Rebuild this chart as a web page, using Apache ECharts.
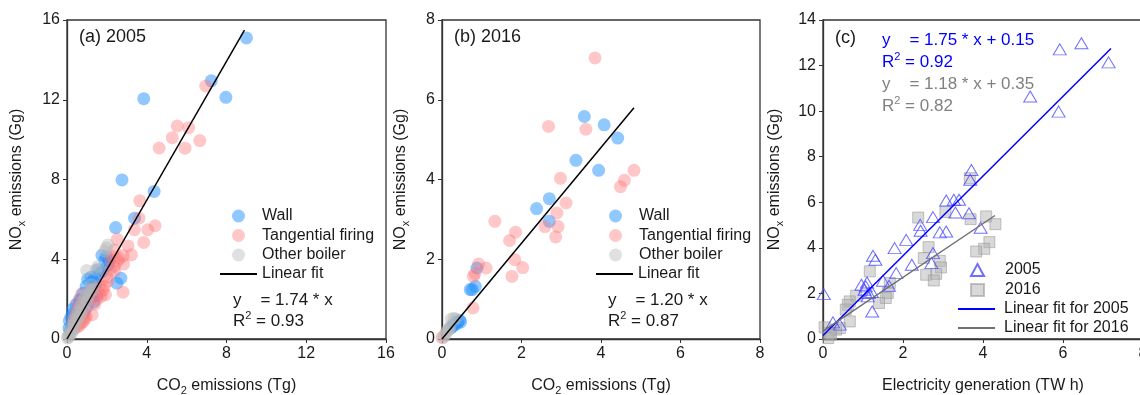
<!DOCTYPE html>
<html>
<head>
<meta charset="utf-8" />
<script src="https://cdn.jsdelivr.net/npm/echarts@6.0.0/dist/echarts.min.js"></script>
<style>
  html, body { margin: 0; padding: 0; background: #fff; }
</style>
</head>
<body>
<div id="main" style="width: 1140px; height: 395px"></div>
<script type="text/javascript">
// ---- data ----
// (a) 2005, x = CO2 (Tg), y = NOx (Gg)
const wallA = [[9.0,15.1],[7.24,12.95],[7.97,12.12],[3.85,12.05],[2.76,7.98],[4.37,7.4],[2.44,5.59],[3.39,6.06],
  [2.5,2.8],[2.7,3.05],[1.97,4.14],[1.75,4.2],[2.1,3.9],[1.55,3.47],[1.38,3.1],[1.3,2.9],[1.2,3.1],[1.04,3.0],
  [0.96,2.64],[0.8,2.3],[0.7,1.97],[0.45,1.72],[0.3,1.5],[0.2,1.1],[0.12,0.9],[0.1,0.55],[1.34,1.85],[1.45,2.75],
  [1.65,3.3],[1.9,3.95],[1.25,2.55],[1.1,2.4],[0.9,2.1],[0.6,1.6],[0.28,1.25],[0.55,1.2],[0.25,0.7],[0.15,0.4],
  [1.5,2.2],[1.0,1.6],[0.85,1.3],[2.05,3.7],[1.8,3.4],[1.29,2.13],[0.62,1.97]];
const tangA = [[6.96,12.69],[5.53,10.68],[5.28,10.1],[6.1,10.6],[6.66,9.95],[5.92,9.57],[4.62,9.58],[3.65,6.93],
  [3.61,6.06],[3.38,5.48],[4.05,5.48],[4.42,5.68],[3.85,4.84],[2.52,5.0],[3.06,4.67],[2.82,4.17],[3.23,4.22],
  [2.84,3.76],[2.55,3.92],[2.38,3.64],[2.38,3.39],[2.17,3.5],[2.81,2.35],[1.93,2.22],[1.8,2.44],[1.88,2.64],
  [1.71,2.14],[1.63,2.67],[1.26,1.22],[0.82,0.88],[0.71,0.8],[0.62,0.67],[0.71,2.22],[0.54,1.8],[0.62,1.63],
  [0.45,1.3],[0.87,1.39],[0.96,1.14],[0.29,0.97],[0.37,0.55],[1.5,2.0],[1.4,1.75],[1.1,1.9],[2.0,3.1],[2.2,4.0],
  [1.6,2.3],[0.9,1.0],[1.2,2.4],[0.5,0.6],[2.05,2.9],[2.38,4.47],[2.3,4.14],[2.63,4.05]];
const otherA = [[2.05,4.72],[1.97,4.56],[1.9,4.4],[0.99,3.44],[1.55,3.64],[1.46,3.47],[1.21,2.72],[1.09,2.47],
  [0.96,2.22],[0.87,2.05],[0.76,1.84],[0.65,1.6],[0.55,1.35],[0.45,1.1],[0.35,0.9],[0.28,0.7],[0.2,0.5],
  [0.12,0.3],[0.06,0.15],[0.02,0.05],[0.8,1.5],[0.6,1.1],[0.4,0.7],[0.3,0.45],[0.15,0.2],[1.3,2.5],[1.1,2.2],
  [0.7,1.3],[0.5,0.9],[1.0,1.9],[0.08,0.08],[0.25,0.3]];
const fitA = [[0,0],[8.9,15.49]];

// (b) 2016
const wallB = [[3.58,5.58],[4.08,5.37],[4.42,5.04],[3.37,4.48],[3.94,4.23],[2.7,3.52],[2.38,3.27],[2.7,2.95],
  [0.88,1.78],[0.84,1.32],[0.76,1.24],[0.71,1.24],[0.44,0.47],[0.4,0.4],[0.47,0.43],[0.32,0.36],[0.23,0.28],
  [0.36,0.42],[0.28,0.33]];
const tangB = [[3.85,7.05],[2.68,5.33],[3.62,5.26],[2.98,4.03],[4.83,4.23],[4.59,3.98],[4.49,3.82],[3.12,3.41],
  [2.89,3.16],[1.33,2.95],[2.59,2.82],[2.92,2.82],[2.86,2.56],[1.85,2.68],[1.7,2.47],[1.83,1.99],[2.03,1.79],
  [1.76,1.57],[1.11,1.78],[0.92,1.88],[0.83,1.64],[0.79,1.57],[0.78,0.78],[0.0,0.04]];
const otherB = [[0.3,0.52],[0.23,0.5],[0.35,0.5],[0.2,0.32],[0.15,0.22],[0.1,0.14],[0.06,0.08],[0.03,0.03],
  [0.12,0.2],[0.18,0.25]];
const fitB = [[0,0],[4.83,5.8]];

// (c) x = electricity generation (TW h)
const tri2005 = [[0.02,1.97],[6.46,12.98],[5.92,12.71],[7.14,12.14],[5.18,10.64],[5.89,9.98],[3.71,7.42],
  [3.68,6.99],[3.08,6.08],[3.27,6.11],[3.4,6.11],[3.31,5.55],[3.65,5.52],[2.75,5.35],[2.43,5.01],[2.44,4.75],
  [2.92,4.68],[3.08,4.72],[3.94,4.88],[2.08,4.35],[1.79,3.99],[1.25,3.65],[1.31,3.48],[2.22,3.26],[2.75,3.77],
  [2.71,3.33],[1.83,2.89],[1.5,2.56],[1.65,2.34],[0.96,2.38],[1.07,2.31],[1.1,2.48],[1.04,2.16],[1.14,2.02],
  [1.22,2.06],[1.12,1.87],[1.23,1.21],[0.25,0.73],[0.42,0.63]];
const sq2016 = [[3.67,7.06],[3.69,5.26],[3.06,5.57],[2.38,5.33],[4.08,5.38],[4.31,5.04],[4.16,4.25],[4.03,3.96],
  [3.83,3.84],[2.64,4.03],[2.52,3.55],[2.92,3.43],[2.95,3.14],[2.83,2.86],[2.58,2.82],[2.77,2.57],[1.17,2.97],
  [1.67,2.46],[1.62,2.02],[1.57,1.8],[1.4,1.58],[0.83,1.9],[0.67,1.65],[0.62,1.5],[0.57,1.29],[0.67,0.77],
  [0.42,0.48],[0.33,0.41],[0.17,0.26],[0.04,0.51],[0.13,0.04],[0.2,0.19]];
const fit2005 = [[0,0.15],[7.2,12.75]];
const fit2016 = [[0,0.35],[4.3,5.42]];

const ticksAB = { a: [0, 16, 4], b: [0, 8, 2] };
const yTicksC = [0, 14, 2];
const xTicksC = [0, 8, 2];

// ---- styling ----
const FONT = 'Liberation Sans, Arial, sans-serif';
const TXT = '#1a1a1a';
const cWall = 'rgba(30,144,255,0.62)';
const cTang = 'rgba(255,115,115,0.5)';
const cOther = 'rgba(185,185,185,0.55)';

var myChart = echarts.init(document.getElementById('main'));

const nameRich = {
  t: { fontSize: 16, lineHeight: 20, fontFamily: FONT, color: TXT },
  s: { fontSize: 11, lineHeight: 11, verticalAlign: 'bottom', fontFamily: FONT, color: TXT }
};

function xAxis(idx, r, name) {
  return {
    gridIndex: idx, type: 'value', min: r[0], max: r[1], interval: r[2],
    name: name, nameLocation: 'middle', nameGap: 37,
    nameTextStyle: { rich: nameRich },
    axisLine: { show: true, onZero: false, lineStyle: { color: '#333', width: 1.3 } },
    axisTick: { show: true, inside: false, length: 4, lineStyle: { color: '#333' } },
    axisLabel: { fontSize: 16, color: TXT, fontFamily: FONT, margin: 7 },
    splitLine: { show: false }
  };
}
function yAxis(idx, r, gap) {
  return {
    gridIndex: idx, type: 'value', min: r[0], max: r[1], interval: r[2],
    name: '{t|NO}{s|x}{t| emissions (Gg)}', nameLocation: 'middle', nameGap: gap,
    nameTextStyle: { rich: nameRich },
    axisLine: { show: true, onZero: false, lineStyle: { color: '#333', width: 1.3 } },
    axisTick: { show: true, inside: false, length: 4, lineStyle: { color: '#333' } },
    axisLabel: { fontSize: 16, color: TXT, fontFamily: FONT, margin: 7 },
    splitLine: { show: false }
  };
}
function dots(name, data, color, idx) {
  return { name: name, type: 'scatter', xAxisIndex: idx, yAxisIndex: idx, data: data,
    symbol: 'circle', symbolSize: 13, itemStyle: { color: color }, silent: true };
}
function fitLine(name, data, color, idx) {
  return { name: name, type: 'line', xAxisIndex: idx, yAxisIndex: idx, data: data,
    symbol: 'none', itemStyle: { color: color }, lineStyle: { color: color, width: 1.5 }, silent: true, z: 5 };
}

const legendText = { fontSize: 16, color: TXT, fontFamily: FONT };
function dotLegend(left, top, names) {
  return { left: left, top: top, padding: 0, orient: 'vertical', itemWidth: 37, itemHeight: 13, itemGap: 3.5,
    textStyle: legendText, selectedMode: false, data: names };
}
function lineLegend(left, top, names) {
  return { left: left, top: top, padding: 0, orient: 'vertical', itemWidth: 37, itemHeight: 2, itemGap: 3,
    icon: 'rect', textStyle: legendText, selectedMode: false, data: names };
}

const eqRich = (color) => ({
  n: { fontSize: 17, lineHeight: 22, fontFamily: FONT, fill: color, color: color },
  p: { fontSize: 11, lineHeight: 11, verticalAlign: 'top', fontFamily: FONT, fill: color, color: color }
});
function label(x, y, text, color, size) {
  return { type: 'text', x: x, y: y, silent: true,
    style: { text: text, fill: color, font: size + 'px ' + FONT, rich: eqRich(color) } };
}

const gridBox = { show: true, borderColor: '#333', borderWidth: 1.3, outerBoundsMode: 'none', containLabel: false };

myChart.setOption({
  animation: false,
  grid: [
    Object.assign({ left: 67, top: 20, width: 319, height: 319 }, gridBox),
    Object.assign({ left: 442, top: 20, width: 318, height: 319 }, gridBox),
    Object.assign({ left: 823, top: 20, width: 320, height: 319 }, gridBox)
  ],
  xAxis: [
    xAxis(0, ticksAB.a, '{t|CO}{s|2}{t| emissions (Tg)}'),
    xAxis(1, ticksAB.b, '{t|CO}{s|2}{t| emissions (Tg)}'),
    xAxis(2, xTicksC, '{t|Electricity generation (TW h)}')
  ],
  yAxis: [
    yAxis(0, ticksAB.a, 40),
    yAxis(1, ticksAB.b, 31),
    yAxis(2, yTicksC, 38)
  ],
  legend: [
    dotLegend(232, 208, ['Wall', 'Tangential firing', 'Other boiler']),
    lineLegend(220, 266, ['Linear fit']),
    dotLegend(609, 208, ['Wall', 'Tangential firing', 'Other boiler']),
    lineLegend(596, 266, ['Linear fit']),
    { left: 970, top: 262, padding: 0, orient: 'vertical', itemWidth: 13, itemHeight: 12, itemGap: 4,
      textStyle: Object.assign({ padding: [0, 0, 0, 16] }, legendText), selectedMode: false, data: ['2005', '2016'] },
    { left: 958, top: 301, padding: 0, orient: 'vertical', itemWidth: 37, itemHeight: 2, itemGap: 3,
      icon: 'rect', textStyle: Object.assign({ padding: [0, 0, 0, 4] }, legendText), selectedMode: false,
      data: ['Linear fit for 2005', 'Linear fit for 2016'] }
  ],
  series: [
    dots('Wall', wallA, cWall, 0),
    dots('Tangential firing', tangA, cTang, 0),
    dots('Other boiler', otherA, cOther, 0),
    fitLine('Linear fit', fitA, '#000', 0),
    dots('Wall', wallB, cWall, 1),
    dots('Tangential firing', tangB, cTang, 1),
    dots('Other boiler', otherB, cOther, 1),
    fitLine('Linear fit', fitB, '#000', 1),
    { name: '2016', type: 'scatter', xAxisIndex: 2, yAxisIndex: 2, data: sq2016, symbol: 'rect',
      symbolSize: 11, silent: true,
      itemStyle: { color: 'rgba(175,175,175,0.6)', borderColor: 'rgba(150,150,150,0.7)', borderWidth: 1 } },
    { name: '2005', type: 'scatter', xAxisIndex: 2, yAxisIndex: 2, data: tri2005, symbol: 'triangle',
      symbolSize: [13, 11], silent: true,
      itemStyle: { color: 'rgba(255,255,255,0)', borderColor: '#4a4aff', borderWidth: 1 } },
    fitLine('Linear fit for 2005', fit2005, '#0000ff', 2),
    fitLine('Linear fit for 2016', fit2016, '#707070', 2)
  ],
  graphic: [
    label(79, 28, '(a) 2005', TXT, 18),
    label(454, 28, '(b) 2016', TXT, 18),
    label(835, 29, '(c)', TXT, 18),
    label(233, 289, '{n|y    = 1.74 * x}', TXT, 17),
    label(233, 310, '{n|R}{p|2}{n| = 0.93}', TXT, 17),
    label(608, 289, '{n|y    = 1.20 * x}', TXT, 17),
    label(608, 310, '{n|R}{p|2}{n| = 0.87}', TXT, 17),
    label(882, 29, '{n|y    = 1.75 * x + 0.15}', '#0000ff', 17),
    label(882, 51, '{n|R}{p|2}{n| = 0.92}', '#0000ff', 17),
    label(882, 73, '{n|y    = 1.18 * x + 0.35}', '#808080', 17),
    label(882, 95, '{n|R}{p|2}{n| = 0.82}', '#808080', 17)
  ]
});
</script>
</body>
</html>
